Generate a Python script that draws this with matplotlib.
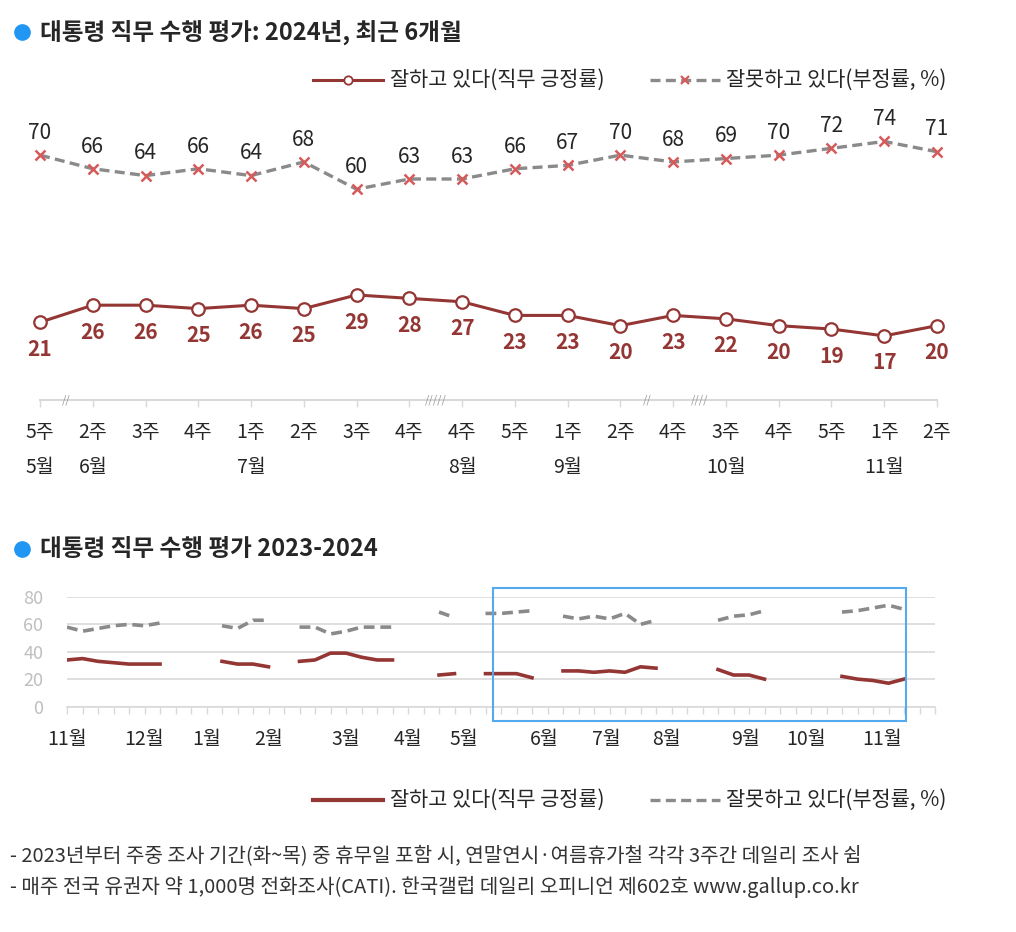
import numpy as np
import matplotlib
matplotlib.use('Agg')
import matplotlib.pyplot as plt
from matplotlib.lines import Line2D
from matplotlib.patches import Rectangle

plt.rcParams['font.family'] = ['Noto Sans CJK KR', 'DejaVu Sans']

# ---- top chart: 2024, last 6 months ----
weeks = ['5주', '2주', '3주', '4주', '1주', '2주', '3주', '4주', '4주',
         '5주', '1주', '2주', '4주', '3주', '4주', '5주', '1주', '2주']
months = ['5월', '6월', '', '', '7월', '', '', '', '8월',
          '', '9월', '', '', '10월', '', '', '11월', '']
approve = [21, 26, 26, 25, 26, 25, 29, 28, 27, 23, 23, 20, 23, 22, 20, 19, 17, 20]
disapprove = [70, 66, 64, 66, 64, 68, 60, 63, 63, 66, 67, 70, 68, 69, 70, 72, 74, 71]
breaks = {0.5: '//', 7.5: '/////', 11.5: '//', 12.5: '////'}

# ---- bottom chart: weekly, Nov 2023 - Nov 2024 (nan = no survey) ----
nan = np.nan
approve_long = [34, 35, 33, 32, 31, 31, 31, nan, nan, nan,
                33, 31, 31, 29, nan,
                33, 34, 39, 39, 36, 34, 34, nan, nan,
                23, 24, nan, 24, 24, 24, 21, nan,
                26, 26, 25, 26, 25, 29, 28, nan, nan, nan,
                27, 23, 23, 20, nan, 23, nan, nan,
                22, 20, 19, 17, 20, nan, nan]
disapprove_long = [58, 55, 57, 59, 60, 59, 61, nan, nan, nan,
                   59, 57, 63, 63, nan,
                   58, 58, 53, 55, 58, 58, 58, nan, nan,
                   69, 65, nan, 68, 68, 69, 70, nan,
                   66, 64, 66, 64, 68, 60, 63, nan, nan, nan,
                   63, 66, 67, 70, nan, 68, nan, nan,
                   69, 70, 72, 74, 71, nan, nan]
long_months = ['11월', '12월', '1월', '2월', '3월', '4월', '5월',
               '6월', '7월', '8월', '9월', '10월', '11월']
long_month_pos = [0, 5, 9, 13, 18, 22, 25.6, 30.8, 34.8, 38.7, 43.8, 47.7, 52.6]

RED = '#943634'
GRAY = '#8a8a8a'
XRED = '#d65a5a'
BLUE = '#2196f3'
AXC = '#d9d9d9'
TXT = '#262626'

W, H = 1016, 932
fig = plt.figure(figsize=(W / 100, H / 100), dpi=100)


def box(l, t, r, b):
    return [l / W, 1 - b / H, (r - l) / W, (b - t) / H]


def fx(px):
    return px / W


def fy(py):
    return 1 - py / H


def section_title(y, text):
    fig.add_artist(Line2D([fx(22)], [fy(y)], marker='o', ms=11, color=BLUE,
                          transform=fig.transFigure))
    fig.text(fx(40), fy(y), text, fontsize=17, fontweight='bold',
             color=TXT, va='center', ha='left')


def legend_row(y, with_markers):
    # approval
    fig.add_artist(Line2D([fx(313), fx(383)], [fy(y), fy(y)], color=RED,
                          lw=2.2 if with_markers else 3, transform=fig.transFigure))
    if with_markers:
        fig.add_artist(Line2D([fx(348)], [fy(y)], marker='o', ms=6, mfc='white',
                              mec=RED, mew=1.3, transform=fig.transFigure))
    fig.text(fx(390), fy(y), '잘하고 있다(직무 긍정률)', fontsize=15,
             color=TXT, va='center')
    # disapproval
    fig.add_artist(Line2D([fx(650), fx(720)], [fy(y), fy(y)], color=GRAY,
                          lw=2.4, ls=(0, (3, 1.6)), transform=fig.transFigure))
    if with_markers:
        fig.add_artist(Line2D([fx(685)], [fy(y)], marker='x', ms=6, color=XRED,
                              mew=1.6, transform=fig.transFigure))
    fig.text(fx(726), fy(y), '잘못하고 있다(부정률, %)', fontsize=15,
             color=TXT, va='center')


# ================= top chart =================
section_title(32, '대통령 직무 수행 평가: 2024년, 최근 6개월')
legend_row(80, True)

ax1 = fig.add_axes(box(40, 120, 937, 400))
x = np.arange(len(weeks))
ax1.set_xlim(0, len(weeks) - 1)
ax1.set_ylim(-1.8, 80.3)
ax1.plot(x, disapprove, color=GRAY, lw=2.4, ls=(0, (3, 1.6)), clip_on=False, zorder=2)
ax1.plot(x, disapprove, ls='none', marker='x', ms=7, mew=1.8, color=XRED,
         clip_on=False, zorder=3)
ax1.plot(x, approve, color=RED, lw=2.2, marker='o', ms=9, mfc='white', mec=RED,
         mew=1.6, clip_on=False, zorder=3)

for i, v in enumerate(disapprove):
    ax1.annotate(str(v), (i, v), xytext=(0, 16), textcoords='offset points',
                 ha='center', va='center', fontsize=15, color=TXT)
for i, v in enumerate(approve):
    ax1.annotate(str(v), (i, v), xytext=(0, -19.5), textcoords='offset points',
                 ha='center', va='center', fontsize=15, color=RED,
                 fontweight='bold')

for s in ['top', 'right', 'left']:
    ax1.spines[s].set_visible(False)
ax1.spines['bottom'].set_color(AXC)
ax1.spines['bottom'].set_linewidth(1.5)
ax1.set_yticks([])
ax1.set_xticks(x)
ax1.tick_params(axis='x', length=5, width=1, color=AXC, labelbottom=False)

xt = ax1.get_xaxis_transform()
for i, (wk, mo) in enumerate(zip(weeks, months)):
    ax1.text(i, -33 / 280, wk, transform=xt, ha='center', va='center',
             fontsize=14, color=TXT)
    if mo:
        ax1.text(i, -68 / 280, mo, transform=xt, ha='center', va='center',
                 fontsize=14, color=TXT)
for pos, mark in breaks.items():
    ax1.text(pos, 0, mark, transform=xt, ha='center', va='center', fontsize=8,
             color='#9a9a9a', style='italic', clip_on=False)

# ================= bottom chart =================
section_title(549, '대통령 직무 수행 평가 2023-2024')

ax2 = fig.add_axes(box(67, 597, 935, 706.5))
xl = np.arange(len(approve_long))
ax2.set_xlim(0, 56)
ax2.set_ylim(0, 80)
ax2.set_yticks([0, 20, 40, 60, 80])
ax2.grid(axis='y', color=AXC, lw=1.2)
ax2.set_axisbelow(True)
ax2.plot(xl, disapprove_long, color=GRAY, lw=2.6, ls=(0, (3, 1.6)), zorder=2)
ax2.plot(xl, approve_long, color=RED, lw=2.6, zorder=3)
for s in ['top', 'right', 'left']:
    ax2.spines[s].set_visible(False)
ax2.spines['bottom'].set_color(AXC)
ax2.spines['bottom'].set_linewidth(1.2)
ax2.set_xticks(np.arange(0, 57))
ax2.tick_params(axis='x', length=5, width=1, color=AXC, labelbottom=False)
ax2.tick_params(axis='y', length=0, pad=17, labelsize=13, labelcolor='#bfbfbf')

xt2 = ax2.get_xaxis_transform()
for pos, mo in zip(long_month_pos, long_months):
    ax2.text(pos, -33 / 109.5, mo, transform=xt2, ha='center', va='center',
             fontsize=14, color=TXT)

ax2.add_patch(Rectangle((27.46, -10.4), 26.7, 96.7, fill=False,
                        edgecolor='#55aaee', lw=1.5, clip_on=False, zorder=4))

legend_row(800, False)

# ================= footnotes =================
fig.text(fx(10), fy(857), '- 2023년부터 주중 조사 기간(화~목) 중 휴무일 포함 시, '
         '연말연시·여름휴가철 각각 3주간 데일리 조사 쉼',
         fontsize=14.5, color='#333333', va='center')
fig.text(fx(10), fy(887), '- 매주 전국 유권자 약 1,000명 전화조사(CATI). '
         '한국갤럽 데일리 오피니언 제602호 www.gallup.co.kr',
         fontsize=14.5, color='#333333', va='center')

fig.savefig('out.png', dpi=100, facecolor='white')
